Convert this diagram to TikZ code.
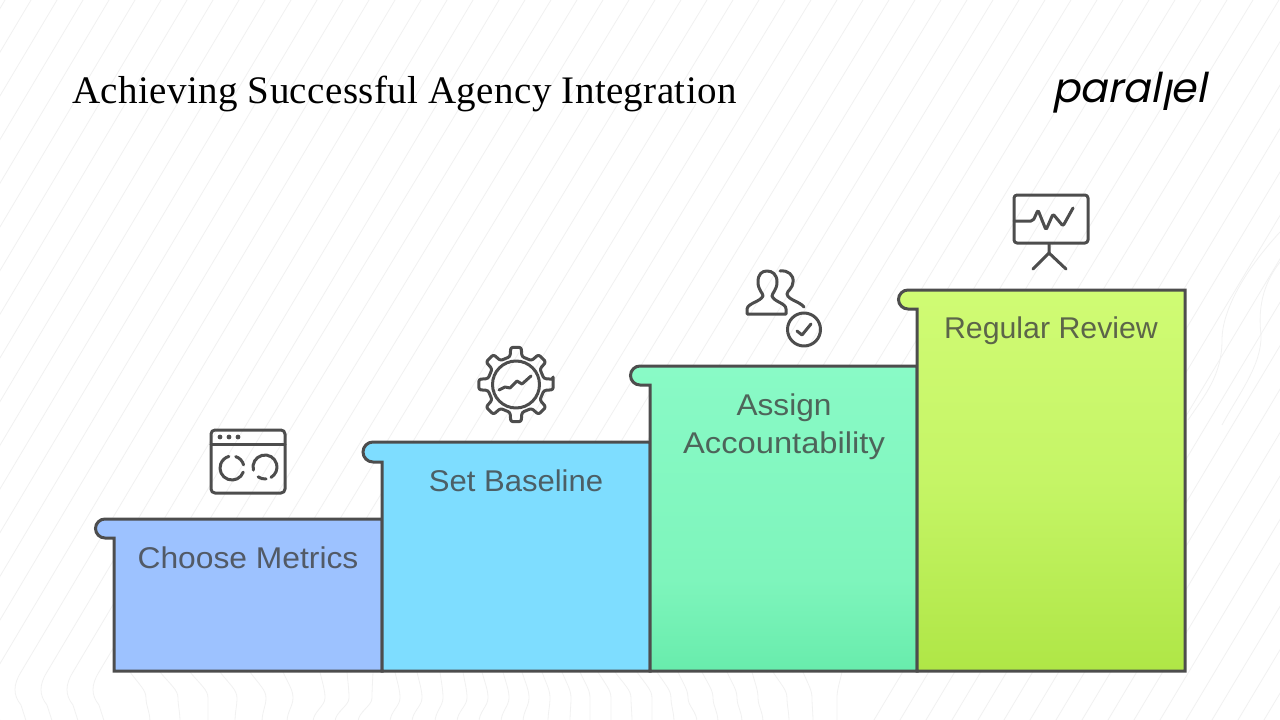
\documentclass[tikz,border=0pt]{standalone}
\usepackage{fontspec}
\setmainfont{Liberation Serif}
\newfontfamily\labelfont{Liberation Sans}
\newfontfamily\titlefont[LetterSpace=1]{Liberation Serif}
\newfontfamily\logofont[FakeSlant=0.2]{Poppins}
\definecolor{edge}{HTML}{4D4D4D}
\definecolor{stripe}{HTML}{F1F1F1}
\definecolor{greena}{HTML}{68ECAC}
\definecolor{greenb}{HTML}{7EF5BC}
\definecolor{greenc}{HTML}{89FAC6}
\definecolor{limea}{HTML}{AFE646}
\definecolor{limeb}{HTML}{C5F566}
\definecolor{limec}{HTML}{D0FB74}
\pgfdeclareverticalshading{greenstep}{100bp}{color(0bp)=(greena); color(25bp)=(greena); color(40bp)=(greenb); color(75bp)=(greenc); color(100bp)=(greenc)}
\pgfdeclareverticalshading{limestep}{100bp}{color(0bp)=(limea); color(25bp)=(limea); color(50bp)=(limeb); color(75bp)=(limec); color(100bp)=(limec)}
\newcommand{\widen}[2]{\scalebox{#1}[1]{#2}}
\tikzset{
  stepbox/.style={draw=edge,line width=3pt,line join=miter},
  steplabel/.style={font=\labelfont\fontsize{30}{36}\selectfont,text=black!75,text opacity=0.8,anchor=base,inner sep=0pt},
  iconline/.style={draw=edge,line width=3pt,line cap=round,line join=round},
  bgline/.style={draw=stripe,line width=0.8pt}
}
\begin{document}
\begin{tikzpicture}[x=1pt,y=-1pt]
\useasboundingbox (0,0) rectangle (1280,720);
\fill[white] (0,0) rectangle (1280,720);
\begin{scope}
\clip (0,0) rectangle (1280,720);
% faint background contours
\foreach \X in {-70,-44,...,1800}{
  \pgfmathsetmacro{\B}{\X-411}
  \ifdim\B pt<114pt
    \draw[bgline] (\X,-5) -- (\B+8,672) .. controls (\B,685) and (\B,695) .. (\B+8,705) -- (\B+16,730);
  \else
    \ifdim\B pt>890pt
      \draw[bgline] (\X,-5) -- (\X-440,730);
    \else
      \draw[bgline] (\X,-5) -- (\B,672);
    \fi
  \fi
}
\foreach \a/\b/\c in {130/146/150,160/178/180,190/208/208,220/237/235,250/266/262,283/293/287,320/325/313,347/349/335,373/372/358,395/400/390,417/422/412,440/443/435,463/467/457,482/488/479,503/509/501,522/529/523,542/550/548,562/571/570,580/590/590,598/611/611,615/631/632,637/652/652,657/671/674,678/688/697,702/713/718,727/737/742,752/758/763,773/787/789,803/812/813,842/837/837}{
  \draw[bgline] (\a,672) .. controls (\a+0.6*\b-0.6*\a,685) and (\b,690) .. (\b,698) .. controls (\b,706) and (\c,712) .. (\c,722);
}
\draw[bgline] (1280,262) .. controls (1262,285) and (1258,310) .. (1261,335) .. controls (1262,365) and (1238,395) .. (1222,425);
\draw[bgline] (1280,232) .. controls (1245,270) and (1222,310) .. (1222,340) .. controls (1222,375) and (1205,395) .. (1188,420);
\end{scope}

% steps
\draw[stepbox,fill={rgb,255:red,157;green,194;blue,255}]
  (114,671) -- (114,538) -- (105,538) arc (90:270:9.5) -- (382,519) -- (382,671) -- cycle;
\draw[stepbox,fill={rgb,255:red,126;green,221;blue,255}]
  (382,671) -- (382,462) -- (373,462) arc (90:270:10) -- (650,442) -- (650,671) -- cycle;
\draw[stepbox,shading=greenstep]
  (650,671) -- (650,385) -- (640,385) arc (90:270:9.5) -- (917,366) -- (917,671) -- cycle;
\draw[stepbox,shading=limestep]
  (917,671) -- (917,309) -- (908,309) arc (90:270:9.5) -- (1185,290) -- (1185,671) -- cycle;

% labels
\node[steplabel] (choose) at (248,568) {\widen{1.06}{Choose Metrics}};
\node[steplabel] (baseline) at (516,491) {\widen{1.035}{Set Baseline}};
\node[steplabel] (assign) at (784,415) {\widen{1.055}{Assign}};
\node[steplabel] (account) at (784,453) {\widen{1.09}{Accountability}};
\node[steplabel] (review) at (1051,338) {\widen{1.01}{Regular Review}};

% title and logo
\node[anchor=base west,inner sep=0pt,font=\titlefont\fontsize{39}{44}\selectfont] (title) at (72,103) {Achieving Successful Agency Integration};
\node[anchor=base west,inner sep=0pt,font=\logofont\fontsize{41}{46}\selectfont] (logo) at (1052,102) {paral\raisebox{-8pt}{l}el};

% icon 1: window with two rings
\draw[iconline,rounded corners=4pt] (211,430) rectangle (285,493);
\draw[iconline] (211,444) -- (285,444);
\foreach \x in {220,229,238}{\fill[edge] (\x,437) circle (2.4);}
\draw[iconline] ([shift={(20:12)}]232,468) arc (20:255:12);
\draw[iconline] ([shift={(-72:12)}]232,468) arc (-72:-15:12);
\draw[iconline] ([shift={(165:12)}]265,467) arc (165:420:12);
\draw[iconline] ([shift={(85:12)}]265,467) arc (85:125:12);

% icon 2: gear with chart
\begin{scope}[shift={(516,384.5)}]
\draw[iconline,rounded corners=2.2pt] (-8:37.5)
  \foreach \a in {0,45,...,315}{ -- (\a-8:37.5) -- (\a+8:37.5) -- (\a+12:28.5) -- (\a+33:28.5)} -- cycle;
\draw[iconline] (0,0) circle (23.5);
\end{scope}
\draw[iconline] (499,390) -- (505,387) -- (510,388) -- (517,381) -- (522,384) -- (531,376);

% icon 3: people and check
\draw[iconline] (747,314) -- (747,309) .. controls (748,303) and (760,302) .. (763,296) .. controls (763,293) and (758,290) .. (758,282) .. controls (758,274) and (762,271) .. (767,271) .. controls (772,271) and (777,274) .. (777,282) .. controls (777,290) and (772,293) .. (772,296) .. controls (774,302) and (786,303) .. (786,309) -- (786,314) -- cycle;
\draw[iconline] (780,271) .. controls (788,270) and (794,275) .. (793,282) .. controls (793,288) and (787,291) .. (787,294) .. controls (788,300) and (799,301) .. (804,307);
\draw[iconline] (804,329.5) circle (16.5);
\draw[iconline] (797,331) -- (802,335) -- (811,324);

% icon 4: presentation board
\draw[iconline,rounded corners=3pt] (1014,195) rectangle (1088,243);
\draw[iconline,rounded corners=2pt] (1014,221) -- (1033,221) -- (1038,210) -- (1046,230) -- (1053,214) -- (1063,226) -- (1073,208);
\draw[iconline] (1049,244) -- (1049,253) -- (1033,269);
\draw[iconline] (1049,253) -- (1066,269);
\end{tikzpicture}
\end{document}
